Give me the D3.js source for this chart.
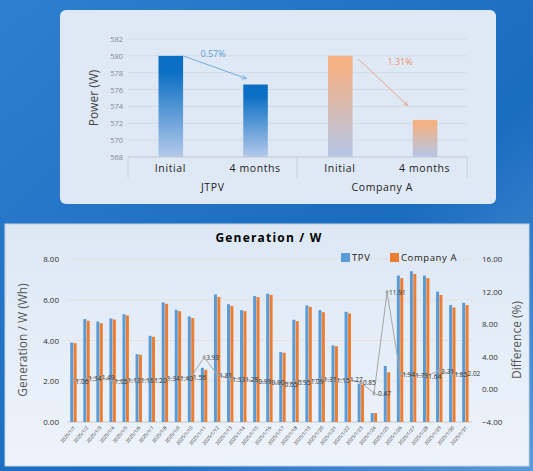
<!DOCTYPE html>
<html><head><meta charset="utf-8">
<script src="https://cdn.jsdelivr.net/npm/d3@7"></script>
<style>body{margin:0;overflow:hidden}svg{display:block;font-family:"Open Sans",sans-serif}</style>
</head><body><div id="chart"></div>
<script>
// top chart data
const groups = ["JTPV", "Company A"];
const stages = ["Initial", "4 months"];
const powerJTPV = [580, 576.6];
const powerCompA = [580, 572.4];
const lossLabels = ["0.57%", "1.31%"];
const powerTicks = [568, 570, 572, 574, 576, 578, 580, 582];

// bottom chart data
const days = d3.range(1, 32).map(d => "2025/1/" + d);
const genTPV = [3.90,5.05,4.93,5.08,5.29,3.33,4.23,5.87,5.51,5.18,2.66,6.26,5.78,5.49,6.18,6.30,3.43,5.02,5.72,5.49,3.76,5.41,1.88,0.44,2.75,7.19,7.40,7.19,6.40,5.74,5.85];
const genCompA = [3.87,4.97,4.85,5.03,5.23,3.30,4.18,5.80,5.44,5.10,2.56,6.14,5.70,5.44,6.13,6.24,3.40,4.95,5.65,5.39,3.72,5.33,1.83,0.44,2.44,7.06,7.27,7.06,6.24,5.62,5.74];
const diffPct = [1.06,1.34,1.49,1.05,1.13,1.16,1.20,1.34,1.40,1.56,3.93,1.81,1.33,1.28,0.99,0.90,0.65,0.95,1.09,1.31,1.15,1.27,0.85,-0.47,11.91,1.94,1.79,1.64,2.31,1.85,2.02];
const genTicks = [0, 2, 4, 6, 8];
const diffTicks = [-4, 0, 4, 8, 12, 16];

const W = 533, H = 471;
const svg = d3.select("#chart").append("svg").attr("width", W).attr("height", H);
const defs = svg.append("defs");
const bgG = defs.append("linearGradient").attr("id", "bg").attr("x1", 0).attr("y1", 0).attr("x2", 1).attr("y2", 1);
bgG.append("stop").attr("offset", 0).attr("stop-color", "#2f7fcf");
bgG.append("stop").attr("offset", 0.6).attr("stop-color", "#1a6cc0");
bgG.append("stop").attr("offset", 1).attr("stop-color", "#5a9ad8");
const blueG = defs.append("linearGradient").attr("id", "gb").attr("x1", 0).attr("y1", 0).attr("x2", 0).attr("y2", 1);
blueG.append("stop").attr("offset", 0.15).attr("stop-color", "#0a6fc4");
blueG.append("stop").attr("offset", 1).attr("stop-color", "#b3c9ea");
const orG = defs.append("linearGradient").attr("id", "go").attr("x1", 0).attr("y1", 0).attr("x2", 0).attr("y2", 1);
orG.append("stop").attr("offset", 0.1).attr("stop-color", "#f4b183");
orG.append("stop").attr("offset", 1).attr("stop-color", "#b4c6e8");
const panG = defs.append("linearGradient").attr("id", "pg").attr("x1", 0).attr("y1", 0).attr("x2", 0).attr("y2", 1);
panG.append("stop").attr("offset", 0).attr("stop-color", "#dce8f5");
panG.append("stop").attr("offset", 1).attr("stop-color", "#eef3fa");
["ab", "ao"].forEach((id, i) => defs.append("marker").attr("id", id).attr("viewBox", "0 0 10 10")
  .attr("refX", 9).attr("refY", 5).attr("markerWidth", 7).attr("markerHeight", 7).attr("orient", "auto")
  .append("path").attr("d", "M0,1L9,5L0,9").attr("fill", "none").attr("stroke", i ? "#f08f6a" : "#5b9bd5"));

svg.append("rect").attr("width", W).attr("height", H).attr("fill", "url(#bg)");

// ---------- top chart ----------
svg.append("rect").attr("x", 60).attr("y", 10).attr("width", 436).attr("height", 194).attr("rx", 6).attr("fill", "#dfe9f5");
const tx = d3.scaleBand().domain(d3.range(4)).range([128, 467]);
const ty = d3.scaleLinear().domain([568, 582]).range([157, 39]);
const topG = svg.append("g");
topG.selectAll(".g").data(powerTicks).join("line").attr("x1", 128).attr("x2", 467)
  .attr("y1", d => ty(d)).attr("y2", d => ty(d)).attr("stroke", "#cfd5dd").attr("stroke-width", 0.8);
topG.selectAll(".t").data(powerTicks).join("text").attr("x", 123).attr("y", d => ty(d) + 3)
  .attr("text-anchor", "end").attr("font-size", 7.5).attr("fill", "#7f8a96").text(d => d);
const tvals = powerJTPV.concat(powerCompA);
topG.selectAll(".b").data(tvals).join("rect")
  .attr("x", (d, i) => tx(i) + tx.bandwidth() * 0.36).attr("width", tx.bandwidth() * 0.29)
  .attr("y", d => ty(d)).attr("height", d => ty(568) - ty(d))
  .attr("fill", (d, i) => i < 2 ? "url(#gb)" : "url(#go)");
topG.selectAll(".c").data(tvals).join("text").attr("x", (d, i) => tx(i) + tx.bandwidth() / 2).attr("y", 172)
  .attr("text-anchor", "middle").attr("font-size", 10.5).attr("letter-spacing", 0.6).attr("fill", "#222")
  .text((d, i) => stages[i % 2]);
topG.selectAll(".gl").data(groups).join("text").attr("x", (d, i) => tx(i * 2 + 1)).attr("y", 191)
  .attr("text-anchor", "middle").attr("font-size", 10.5).attr("letter-spacing", 0.6).attr("fill", "#222").text(d => d);
[128, 297, 467].forEach(x => topG.append("line").attr("x1", x).attr("x2", x).attr("y1", 157).attr("y2", 178).attr("stroke", "#c8ced6"));
topG.append("line").attr("x1", 128).attr("x2", 467).attr("y1", 157).attr("y2", 157).attr("stroke", "#c8ced6");
topG.append("text").attr("transform", "translate(98,98) rotate(-90)").attr("text-anchor", "middle")
  .attr("font-size", 12).attr("fill", "#444").text("Power (W)");
// arrows
const arr = [[tx(0) + tx.bandwidth() * 0.65, ty(580), tx(1) + tx.bandwidth() * 0.4, ty(577.3), "ab", "#5b9bd5"],
             [tx(2) + tx.bandwidth() * 0.72, ty(579.6), tx(3) + tx.bandwidth() * 0.3, ty(574.1), "ao", "#f08f6a"]];
arr.forEach((a, i) => {
  topG.append("line").attr("x1", a[0]).attr("y1", a[1]).attr("x2", a[2]).attr("y2", a[3])
    .attr("stroke", a[5]).attr("stroke-width", 0.8).attr("marker-end", `url(#${a[4]})`);
  topG.append("text").attr("x", i ? 400 : 213).attr("y", i ? ty(578.9) : ty(579.9)).attr("text-anchor", "middle")
    .attr("font-size", 9).attr("fill", a[5]).text(lossLabels[i]);
});

// ---------- bottom chart ----------
svg.append("rect").attr("x", 5).attr("y", 224).attr("width", 524).attr("height", 242).attr("fill", "url(#pg)").attr("stroke", "#c8d4e2");
const bx = d3.scaleBand().domain(days).range([67, 472]);
const by = d3.scaleLinear().domain([0, 8]).range([422, 259]);
const dy = d3.scaleLinear().domain([-4, 16]).range([422, 259]);
const bot = svg.append("g");
bot.selectAll(".g").data(genTicks.slice(1)).join("line").attr("x1", 67).attr("x2", 472)
  .attr("y1", d => by(d)).attr("y2", d => by(d)).attr("stroke", "#e6dcd6").attr("stroke-width", 0.8);
bot.append("g").attr("transform", "translate(67,0)")
  .call(d3.axisLeft(by).tickValues(genTicks).tickFormat(d3.format(".2f")).tickSize(0).tickPadding(8))
  .call(g => g.select(".domain").remove())
  .selectAll("text").attr("font-size", 8).attr("fill", "#333").attr("font-family", "Open Sans");
bot.append("g").attr("transform", "translate(472,0)")
  .call(d3.axisRight(dy).tickValues(diffTicks).tickFormat(d3.format(".2f")).tickSize(0).tickPadding(10))
  .call(g => g.select(".domain").remove())
  .selectAll("text").attr("font-size", 8).attr("fill", "#333").attr("font-family", "Open Sans");
bot.append("line").attr("x1", 67).attr("x2", 472).attr("y1", 422).attr("y2", 422).attr("stroke", "#c8c8c8");
bot.selectAll(".bt").data(genTPV).join("rect")
  .attr("x", (d, i) => bx(days[i]) + bx.bandwidth() / 2 - 3.3).attr("width", 3)
  .attr("y", d => by(d)).attr("height", d => by(0) - by(d)).attr("fill", "#5b9bd5");
bot.selectAll(".bo").data(genCompA).join("rect")
  .attr("x", (d, i) => bx(days[i]) + bx.bandwidth() / 2 + 0.1).attr("width", 3)
  .attr("y", d => by(d)).attr("height", d => by(0) - by(d)).attr("fill", "#ed7d31");
const cx = d => bx(d) + bx.bandwidth() / 2;
bot.append("path").datum(diffPct)
  .attr("d", d3.line().x((d, i) => cx(days[i])).y(d => dy(d)))
  .attr("fill", "none").attr("stroke", "#a5a5a5").attr("stroke-width", 1);
bot.selectAll(".pt").data(diffPct).join("path")
  .attr("transform", (d, i) => `translate(${cx(days[i])},${dy(d)})`)
  .attr("d", d3.symbol(d3.symbolDiamond, 10)).attr("fill", "#a5a5a5");
bot.selectAll(".pl").data(diffPct).join("text")
  .attr("x", (d, i) => cx(days[i]) + 2).attr("y", d => dy(d) + 3)
  .attr("font-size", 6.5).attr("fill", "#333").text(d => d.toFixed(2));
bot.selectAll(".xl").data(days).join("text")
  .attr("transform", d => `translate(${cx(d) + 2},${428}) rotate(-50)`)
  .attr("text-anchor", "end").attr("font-size", 4.8).attr("fill", "#333").text(d => d);
bot.append("text").attr("x", 269).attr("y", 242).attr("text-anchor", "middle").attr("font-size", 12)
  .attr("font-weight", "bold").attr("letter-spacing", 1.2).attr("fill", "#000").text("Generation / W");
bot.append("text").attr("transform", "translate(27,340) rotate(-90)").attr("text-anchor", "middle")
  .attr("font-size", 12).attr("fill", "#555").text("Generation / W (Wh)");
bot.append("text").attr("transform", "translate(521,340) rotate(-90)").attr("text-anchor", "middle")
  .attr("font-size", 12).attr("fill", "#555").text("Difference (%)");
const leg = [["TPV", "#5b9bd5", 341], ["Company A", "#ed7d31", 390]];
leg.forEach(l => {
  bot.append("rect").attr("x", l[2]).attr("y", 253).attr("width", 9).attr("height", 9).attr("fill", l[1]);
  bot.append("text").attr("x", l[2] + 11).attr("y", 261).attr("font-size", 9.5).attr("letter-spacing", 0.6).attr("fill", "#222").text(l[0]);
});
</script></body></html>
